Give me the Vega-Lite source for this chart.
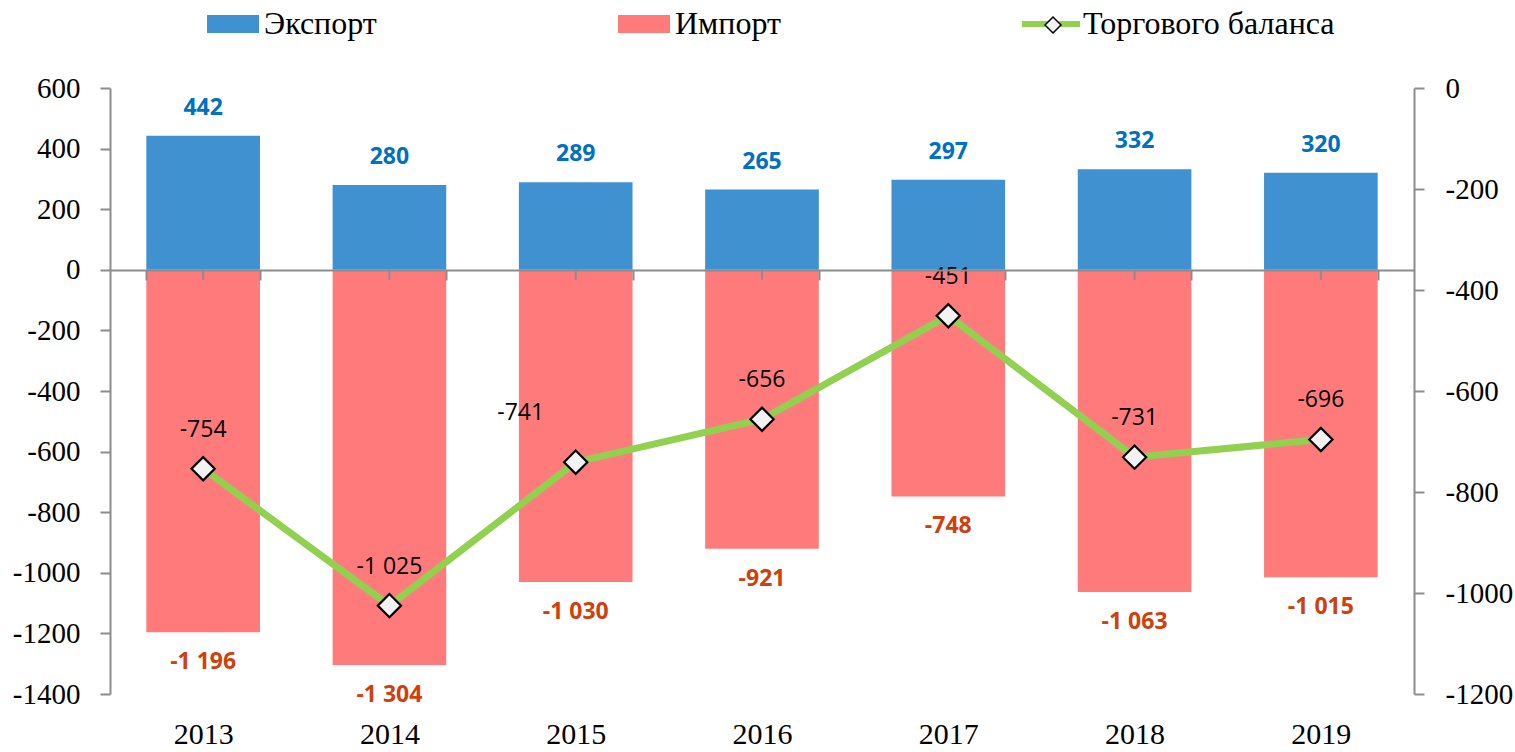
{
  "$schema": "https://vega.github.io/schema/vega-lite/v6.json",
  "width": 1304,
  "height": 606,
  "autosize": {"type": "none"},
  "padding": {"left": 110, "top": 88, "right": 101, "bottom": 58},
  "background": "white",
  "config": {
    "font": "Liberation Serif",
    "view": {"stroke": null},
    "axis": {"labelFont": "Liberation Serif", "labelFontSize": 29, "labelColor": "black"},
    "legend": {"labelFont": "Liberation Serif"},
    "locale": {"number": {"decimal": ",", "thousands": " ", "grouping": [3], "currency": ["", ""], "minus": "-"}}
  },
  "data": {"values": [
    {"year": "2013", "exp": 442, "imp": -1196, "bal": -754},
    {"year": "2014", "exp": 280, "imp": -1304, "bal": -1025},
    {"year": "2015", "exp": 289, "imp": -1030, "bal": -741},
    {"year": "2016", "exp": 265, "imp": -921, "bal": -656},
    {"year": "2017", "exp": 297, "imp": -748, "bal": -451},
    {"year": "2018", "exp": 332, "imp": -1063, "bal": -731},
    {"year": "2019", "exp": 320, "imp": -1015, "bal": -696}
  ]},
  "encoding": {
    "x": {
      "field": "year", "type": "nominal", "sort": null,
      "scale": {"paddingInner": 0.39, "paddingOuter": 0.195},
      "axis": {
        "orient": "bottom", "offset": -424, "title": null, "labelAngle": 0,
        "domainColor": "#8C8C8C", "domainWidth": 2,
        "tickColor": "#8C8C8C", "tickWidth": 2, "tickSize": 10, "tickBand": "extent",
        "labelPadding": 454, "labelBaseline": "middle", "labelFont": "Liberation Serif", "labelFontSize": 30, "labelColor": "black",
        "zindex": 1
      }
    }
  },
  "layer": [
    {
      "layer": [
        {
          "mark": {"type": "bar"},
          "encoding": {
            "y": {
              "field": "exp", "type": "quantitative",
              "scale": {"domain": [-1400, 600], "nice": false, "zero": false},
              "axis": {
                "title": null, "grid": false, "values": [600, 400, 200, 0, -200, -400, -600, -800, -1000, -1200, -1400],
                "format": "d", "domainColor": "#8C8C8C", "domainWidth": 2, "tickColor": "#8C8C8C", "tickWidth": 2, "tickSize": 10,
                "labelPadding": 20, "labelFont": "Liberation Serif", "labelFontSize": 29, "labelColor": "black"
              }
            },
            "color": {
              "datum": "Экспорт", "type": "nominal",
              "scale": {"domain": ["Экспорт", "Импорт"], "range": ["#3F91D0", "#FF7B7B"]},
              "legend": {
                "orient": "none", "legendX": 97, "legendY": -90, "direction": "horizontal", "title": null,
                "columnPadding": 241, "padding": 0, "labelOffset": 5, "symbolSize": 2704, "labelLimit": 500,
                "labelFont": "Liberation Serif", "labelFontSize": 32, "labelColor": "black",
                "encode": {
                  "symbols": {
                    "update": {
                      "shape": {"value": "M-1,-0.35H1V0.35H-1Z"},
                      "stroke": {"value": "transparent"},
                      "strokeWidth": {"value": 0},
                      "opacity": {"value": 1},
                      "fillOpacity": {"value": 1}
                    }
                  }
                }
              }
            }
          }
        },
        {
          "mark": {"type": "bar"},
          "encoding": {
            "y": {"field": "imp", "type": "quantitative"},
            "color": {"datum": "Импорт", "type": "nominal"}
          }
        },
        {
          "mark": {"type": "tick", "orient": "vertical", "size": 10, "thickness": 2, "color": "#8C8C8C", "yOffset": 5, "opacity": 1},
          "encoding": {"y": {"datum": 0, "type": "quantitative"}}
        },
        {
          "mark": {"type": "text", "dy": -28, "font": "Open Sans", "fontSize": 23, "fontWeight": "bold", "color": "#0070C0"},
          "encoding": {
            "y": {"field": "exp", "type": "quantitative"},
            "text": {"field": "exp", "type": "quantitative", "format": ",d"}
          }
        },
        {
          "mark": {"type": "text", "dy": 30, "font": "Open Sans", "fontSize": 23, "fontWeight": "bold", "color": "#D0400C"},
          "encoding": {
            "y": {"field": "imp", "type": "quantitative"},
            "text": {"field": "imp", "type": "quantitative", "format": ",d"}
          }
        }
      ]
    },
    {
      "layer": [
        {
          "mark": {"type": "line", "strokeWidth": 7},
          "encoding": {
            "y": {
              "field": "bal", "type": "quantitative",
              "scale": {"domain": [-1200, 0], "nice": false, "zero": false},
              "axis": {
                "orient": "right", "title": null, "grid": false, "values": [0, -200, -400, -600, -800, -1000, -1200],
                "format": "d", "domainColor": "#8C8C8C", "domainWidth": 2, "tickColor": "#8C8C8C", "tickWidth": 2, "tickSize": 10,
                "labelPadding": 21, "labelFont": "Liberation Serif", "labelFontSize": 29, "labelColor": "black"
              }
            },
            "color": {
              "datum": "Торгового баланса", "type": "nominal",
              "scale": {"domain": ["Торгового баланса"], "range": ["#92D050"]},
              "legend": {
                "orient": "none", "legendX": 912, "legendY": -93, "title": null, "padding": 0,
                "symbolSize": 3364, "labelOffset": 3, "labelLimit": 500,
                "labelFont": "Liberation Serif", "labelFontSize": 32, "labelColor": "black",
                "encode": {
                  "symbols": {
                    "update": {
                      "shape": {"value": "M-1,-0.1H1V0.1H-1Z"},
                      "fill": {"value": "#92D050"},
                      "stroke": {"value": "transparent"},
                      "strokeWidth": {"value": 0},
                      "opacity": {"value": 1},
                      "fillOpacity": {"value": 1}
                    }
                  }
                }
              }
            }
          }
        },
        {
          "mark": {"type": "point", "size": 540, "filled": true, "fill": "#F2F2F2", "stroke": "black", "strokeWidth": 2.2, "opacity": 1},
          "encoding": {
            "y": {"field": "bal", "type": "quantitative"},
            "shape": {
              "datum": "Торгового баланса", "type": "nominal",
              "scale": {"domain": ["Торгового баланса"], "range": ["diamond"]},
              "legend": {
                "orient": "none", "legendX": 934, "legendY": -72, "title": null, "padding": 0, "zindex": 3,
                "symbolSize": 256, "labelExpr": "''", "labelFontSize": 14, "labelOffset": 0,
                "encode": {"symbols": {"update": {"shape": {"value": "diamond"}, "size": {"value": 256}, "fill": {"value": "#F2F2F2"}, "stroke": {"value": "black"}, "strokeWidth": {"value": 2}, "opacity": {"value": 1}, "fillOpacity": {"value": 1}, "strokeOpacity": {"value": 1}}}}
              }
            }
          }
        },
        {
          "transform": [{"filter": "datum.year !== '2015'"}],
          "mark": {"type": "text", "dy": -39, "font": "Open Sans", "fontSize": 23, "color": "black"},
          "encoding": {
            "y": {"field": "bal", "type": "quantitative"},
            "text": {"field": "bal", "type": "quantitative", "format": ",d"}
          }
        },
        {
          "transform": [{"filter": "datum.year === '2015'"}],
          "mark": {"type": "text", "dx": -55, "dy": -49, "font": "Open Sans", "fontSize": 23, "color": "black"},
          "encoding": {
            "y": {"field": "bal", "type": "quantitative"},
            "text": {"field": "bal", "type": "quantitative", "format": ",d"}
          }
        }
      ]
    }
  ],
  "resolve": {"scale": {"y": "independent", "color": "independent"}}
}
